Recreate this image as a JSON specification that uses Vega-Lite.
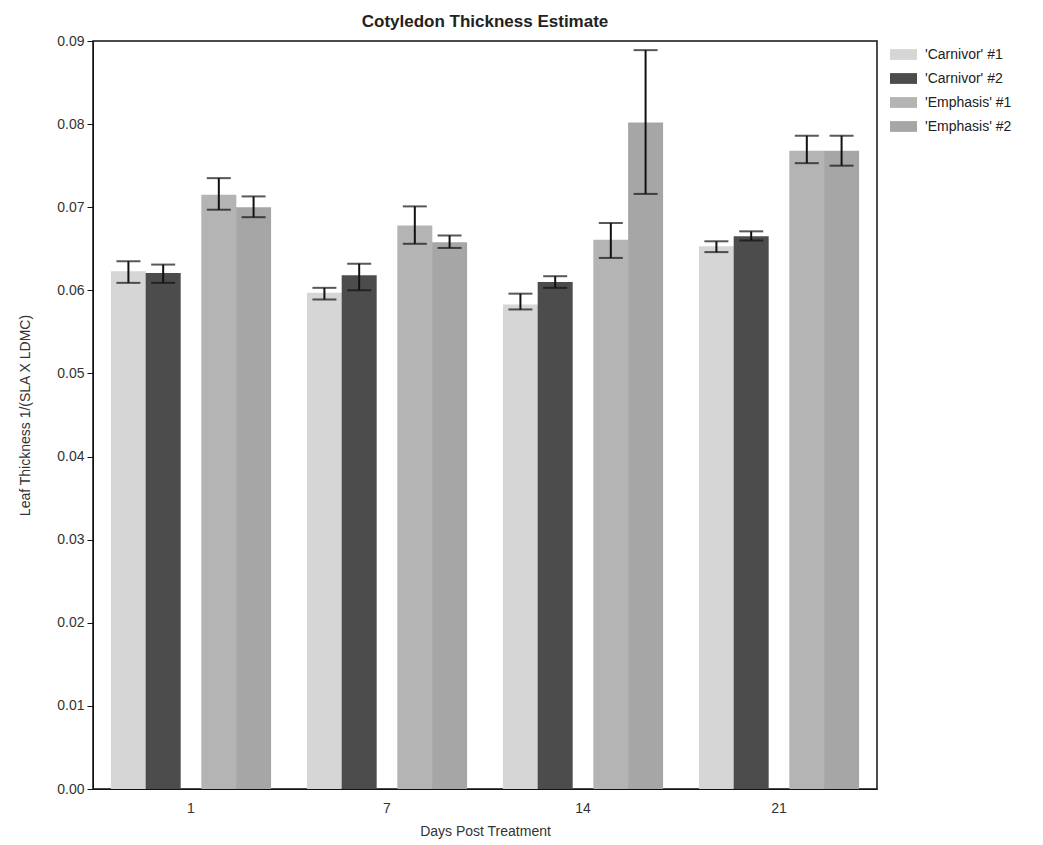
{
  "$schema": "https://vega.github.io/schema/vega-lite/v6.json",
  "autosize": "none",
  "width": 784,
  "height": 748,
  "padding": {"left": 93, "top": 41, "right": 166, "bottom": 56},
  "background": "white",
  "title": {"text": "Cotyledon Thickness Estimate", "font": "Liberation Sans", "fontSize": 17, "fontWeight": "bold", "color": "#222", "anchor": "middle", "offset": 3},
  "config": {
    "view": {"stroke": "#111", "strokeWidth": 1.5},
    "axis": {"labelFont": "Liberation Sans", "titleFont": "Liberation Sans", "labelColor": "#333", "titleColor": "#333", "titleFontWeight": "normal", "domainColor": "#111", "tickColor": "#111", "grid": false}
  },
  "data": {"values": [
    {"day": "1", "series": "'Carnivor' #1", "mean": 0.0623, "lo": 0.0609, "hi": 0.0635},
    {"day": "1", "series": "'Carnivor' #2", "mean": 0.0621, "lo": 0.0609, "hi": 0.0631},
    {"day": "1", "series": "'Emphasis' #1", "mean": 0.0715, "lo": 0.0697, "hi": 0.0735},
    {"day": "1", "series": "'Emphasis' #2", "mean": 0.0700, "lo": 0.0688, "hi": 0.0713},
    {"day": "7", "series": "'Carnivor' #1", "mean": 0.0597, "lo": 0.0589, "hi": 0.0603},
    {"day": "7", "series": "'Carnivor' #2", "mean": 0.0618, "lo": 0.0600, "hi": 0.0632},
    {"day": "7", "series": "'Emphasis' #1", "mean": 0.0678, "lo": 0.0656, "hi": 0.0701},
    {"day": "7", "series": "'Emphasis' #2", "mean": 0.0658, "lo": 0.0651, "hi": 0.0666},
    {"day": "14", "series": "'Carnivor' #1", "mean": 0.0583, "lo": 0.0577, "hi": 0.0596},
    {"day": "14", "series": "'Carnivor' #2", "mean": 0.0610, "lo": 0.0603, "hi": 0.0617},
    {"day": "14", "series": "'Emphasis' #1", "mean": 0.0661, "lo": 0.0639, "hi": 0.0681},
    {"day": "14", "series": "'Emphasis' #2", "mean": 0.0802, "lo": 0.0716, "hi": 0.0889},
    {"day": "21", "series": "'Carnivor' #1", "mean": 0.0653, "lo": 0.0646, "hi": 0.0659},
    {"day": "21", "series": "'Carnivor' #2", "mean": 0.0665, "lo": 0.0660, "hi": 0.0671},
    {"day": "21", "series": "'Emphasis' #1", "mean": 0.0768, "lo": 0.0753, "hi": 0.0786},
    {"day": "21", "series": "'Emphasis' #2", "mean": 0.0768, "lo": 0.0750, "hi": 0.0786}
  ]},
  "encoding": {
    "x": {"field": "day", "type": "nominal", "sort": ["1", "7", "14", "21"],
      "scale": {"paddingInner": 0.184, "paddingOuter": 0.092},
      "axis": {"title": "Days Post Treatment", "labelAngle": 0, "ticks": false, "labelFontSize": 14, "labelPadding": 12, "titleFontSize": 14, "titlePadding": 9}},
    "xOffset": {"field": "series", "type": "nominal",
      "scale": {"domain": ["s0", "s1", "'Carnivor' #1", "s3", "s4", "s5", "s6", "'Carnivor' #2", "s8", "s9", "s10", "s11", "s12", "s13", "s14", "'Emphasis' #1", "s16", "s17", "s18", "s19", "'Emphasis' #2", "s21", "s22"], "paddingInner": 0, "paddingOuter": 0}}
  },
  "layer": [
    {
      "mark": {"type": "bar", "width": 35},
      "encoding": {
        "y": {"field": "mean", "type": "quantitative",
          "scale": {"domain": [0, 0.09], "nice": false},
          "axis": {"title": "Leaf Thickness 1/(SLA X LDMC)", "values": [0, 0.01, 0.02, 0.03, 0.04, 0.05, 0.06, 0.07, 0.08, 0.09], "format": ".2f", "tickSize": 6, "labelFontSize": 14, "labelPadding": 3, "titleFontSize": 14, "titlePadding": 24}},
        "color": {"field": "series", "type": "nominal",
          "scale": {"domain": ["'Carnivor' #1", "'Carnivor' #2", "'Emphasis' #1", "'Emphasis' #2"], "range": ["#d6d6d6", "#4c4c4c", "#b4b4b4", "#a6a6a6"]},
          "legend": {"title": null, "orient": "none", "legendX": 797, "legendY": 0, "symbolType": "M-1,-0.4H1V0.4H-1Z", "symbolSize": 729, "symbolStrokeWidth": 0, "symbolOpacity": 1, "labelFont": "Liberation Sans", "labelFontSize": 14, "labelColor": "#222", "labelOffset": 8, "rowPadding": 3, "padding": 0}}
      }
    },
    {
      "mark": {"type": "rule", "color": "#111", "strokeWidth": 2},
      "encoding": {"y": {"field": "lo", "type": "quantitative"}, "y2": {"field": "hi"}}
    },
    {
      "mark": {"type": "tick", "color": "#111", "thickness": 2, "size": 24},
      "encoding": {"y": {"field": "hi", "type": "quantitative"}}
    },
    {
      "mark": {"type": "tick", "color": "#111", "thickness": 2, "size": 24},
      "encoding": {"y": {"field": "lo", "type": "quantitative"}}
    }
  ]
}
